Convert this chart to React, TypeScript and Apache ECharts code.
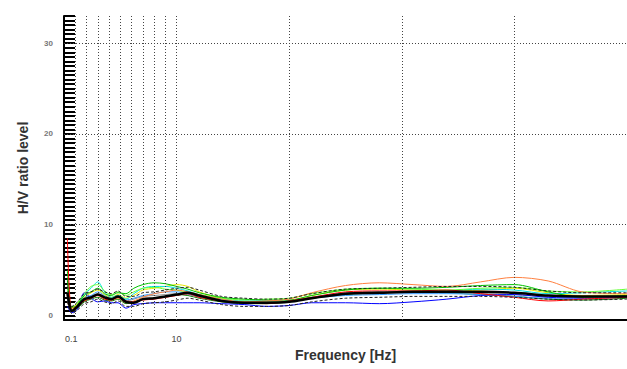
import React, { useEffect, useRef } from "react";
import * as echarts from "echarts";

const freqs = [0.3, 0.7, 1.2, 1.8, 2.4, 3, 3.6, 4.2, 4.8, 5.5, 6.2, 7, 8, 9, 10, 11, 12, 14, 16, 18, 20, 22, 25, 28, 31, 34, 37, 40, 43, 46, 50];

const meanCurve = [2.5, 0.5, 1.0, 1.8, 2.0, 2.3, 2.0, 1.8, 2.1, 1.5, 1.4, 1.8, 1.9, 2.1, 2.3, 2.5, 2.2, 1.6, 1.4, 1.4, 1.5, 1.9, 2.4, 2.5, 2.6, 2.6, 2.6, 2.5, 2.2, 2.1, 2.1];
const upperCurve = [3.2, 1.0, 1.5, 2.4, 2.6, 2.9, 2.6, 2.4, 2.7, 2.1, 2.1, 2.5, 2.6, 2.8, 3.0, 3.1, 2.8, 2.1, 1.9, 1.8, 1.9, 2.4, 2.9, 3.0, 3.1, 3.2, 3.2, 3.1, 2.7, 2.5, 2.5];
const lowerCurve = [1.5, 0.2, 0.6, 1.3, 1.5, 1.8, 1.5, 1.3, 1.6, 1.0, 1.0, 1.3, 1.4, 1.5, 1.7, 1.9, 1.7, 1.2, 1.0, 1.0, 1.1, 1.5, 1.9, 2.0, 2.1, 2.1, 2.1, 2.0, 1.8, 1.7, 1.8];

const redCurve = [8.5, 0.4, 0.9, 1.6, 1.9, 2.2, 1.8, 1.7, 2.0, 1.6, 1.5, 1.7, 1.8, 2.0, 2.2, 2.4, 2.0, 1.6, 1.4, 1.3, 1.6, 2.0, 2.6, 2.7, 2.7, 2.8, 2.4, 2.0, 1.6, 1.8, 2.0];
const blueCurve = [1.0, 0.3, 0.7, 2.5, 1.9, 1.5, 1.6, 1.4, 1.4, 0.8, 1.2, 1.3, 1.4, 1.4, 1.4, 1.4, 1.4, 1.3, 1.2, 1.0, 1.1, 1.4, 1.4, 1.3, 1.5, 1.8, 2.2, 2.3, 2.0, 1.9, 2.0];
const greenCurve = [5.0, 0.6, 1.2, 2.2, 2.6, 3.0, 2.4, 2.2, 2.5, 2.4, 3.0, 3.4, 3.6, 3.5, 3.2, 2.9, 2.5, 2.0, 1.8, 1.7, 1.7, 2.2, 2.8, 3.0, 3.0, 3.1, 3.3, 3.4, 2.6, 2.0, 2.2];
const cyanCurve = [2.5, 0.5, 1.0, 2.3, 3.0, 3.7, 2.6, 2.0, 2.2, 1.8, 2.4, 3.0, 3.2, 3.2, 3.0, 2.7, 2.3, 1.8, 1.6, 1.6, 1.6, 2.0, 2.4, 2.6, 2.6, 2.7, 2.9, 2.8, 2.4, 2.5, 2.7];
const yellowCurve = [2.0, 0.8, 1.3, 2.0, 2.5, 2.8, 2.3, 2.0, 2.3, 1.9, 2.2, 2.8, 3.0, 3.2, 3.4, 3.2, 2.6, 1.9, 1.5, 1.5, 1.6, 2.2, 2.8, 2.9, 2.8, 2.7, 2.8, 3.0, 2.5, 2.2, 2.3];
const orangeCurve = [1.5, 0.7, 1.1, 1.7, 2.0, 2.2, 1.9, 1.7, 1.9, 1.4, 1.6, 2.0, 2.4, 2.6, 2.8, 2.6, 2.3, 1.8, 1.5, 1.6, 1.8, 2.5, 3.3, 3.6, 3.4, 3.2, 3.7, 4.2, 3.8, 2.6, 2.4];
const limeCurve = [3.0, 0.9, 1.4, 2.4, 3.2, 3.4, 2.7, 2.3, 2.6, 2.2, 2.6, 3.0, 3.1, 2.9, 2.8, 2.5, 2.3, 1.9, 1.7, 1.8, 1.9, 2.4, 2.9, 3.0, 2.9, 2.8, 3.0, 3.1, 2.7, 2.6, 2.9];
const darkGreenCurve = [4.0, 0.4, 0.8, 1.5, 1.8, 2.0, 1.7, 1.6, 1.8, 1.3, 1.5, 1.8, 1.9, 2.1, 2.3, 2.2, 1.9, 1.5, 1.3, 1.3, 1.5, 1.9, 2.3, 2.5, 2.6, 2.5, 2.3, 2.1, 1.8, 1.7, 1.9];
const grayCurve = [2.2, 0.5, 1.0, 1.9, 2.1, 2.4, 2.1, 1.9, 2.1, 1.6, 1.8, 2.1, 2.2, 2.3, 2.4, 2.3, 2.0, 1.6, 1.5, 1.5, 1.6, 2.0, 2.5, 2.6, 2.5, 2.5, 2.4, 2.3, 2.1, 2.2, 2.2];
const skyCurve = [1.8, 0.6, 1.2, 2.0, 2.2, 2.6, 2.2, 1.9, 2.2, 1.7, 1.9, 2.2, 2.4, 2.6, 2.6, 2.4, 2.1, 1.7, 1.5, 1.4, 1.5, 1.9, 2.2, 2.3, 2.4, 2.4, 2.3, 2.1, 1.9, 2.0, 2.1];

const coloredCurves: [string, number[]][] = [
  ["#008000", darkGreenCurve],
  ["#888888", grayCurve],
  ["#3399ff", skyCurve],
  ["#0000ff", blueCurve],
  ["#e6e600", yellowCurve],
  ["#00e0e0", cyanCurve],
  ["#66ff33", limeCurve],
  ["#00c000", greenCurve],
  ["#ff8040", orangeCurve],
  ["#ff0000", redCurve],
];

const xLabelValues = [0.1, 10];
const vGridValues = [1, 2, 3, 4, 5, 6, 7, 8, 9, 10, 20, 30, 40];
const hGridValues = [10, 20, 30];

const pts = (vals: number[]) => freqs.map((f, i) => [f, vals[i]]);

export default function App() {
  const ref = useRef<HTMLDivElement>(null);
  useEffect(() => {
    if (!ref.current) return;
    const chart = echarts.init(ref.current, null, { renderer: "svg" });
    const font = "Liberation Sans, Arial, sans-serif";
    const series: any[] = [];
    series.push({
      type: "line",
      data: [],
      silent: true,
      markLine: {
        silent: true,
        symbol: "none",
        label: { show: false },
        lineStyle: { type: [1, 2], color: "#444", width: 1 },
        emphasis: { disabled: true },
        data: [
          ...vGridValues.map((v) => ({ xAxis: v })),
          ...hGridValues.map((v) => ({ yAxis: v })),
        ],
      },
    });
    coloredCurves.forEach(([c, vals]) => {
      series.push({
        type: "line",
        data: pts(vals),
        smooth: 0.3,
        symbol: "none",
        lineStyle: { color: c, width: 1 },
        z: 3,
      });
    });
    [upperCurve, lowerCurve].forEach((vals) => {
      series.push({
        type: "line",
        data: pts(vals),
        smooth: 0.3,
        symbol: "none",
        lineStyle: { color: "#222", width: 1, type: [3, 2] },
        z: 4,
      });
    });
    series.push({
      type: "line",
      data: pts(meanCurve),
      smooth: 0.3,
      symbol: "none",
      lineStyle: { color: "#000", width: 2.5 },
      z: 5,
    });
    chart.setOption({
      animation: false,
      grid: { left: 64, top: 16, width: 570, height: 304, containLabel: false },
      xAxis: {
        type: "value",
        min: 0,
        max: 50,
        name: "Frequency [Hz]",
        nameLocation: "middle",
        nameGap: 28,
        nameTextStyle: { fontFamily: font, fontWeight: "bold", fontSize: 14, color: "#333" },
        axisLine: { show: true, onZero: false, lineStyle: { color: "#000", width: 2 } },
        axisTick: { show: false },
        splitLine: { show: false },
        axisLabel: {
          customValues: xLabelValues,
          formatter: (v: number) => (v < 1 ? `{a|${v}}` : `{b|${v}}`),
          rich: {
            a: { padding: [0, 0, 0, 12], fontSize: 9, fontFamily: font, color: "#444" },
            b: { fontSize: 9, fontFamily: font, color: "#444" },
          },
          fontFamily: font,
          fontSize: 9,
          color: "#444",
          margin: 14,
        },
      },
      yAxis: {
        type: "value",
        min: -0.5,
        max: 33,
        interval: 0.5,
        name: "H/V ratio level",
        nameLocation: "middle",
        nameGap: 34,
        nameTextStyle: { fontFamily: font, fontWeight: "bold", fontSize: 14, color: "#333" },
        axisLine: { show: true, lineStyle: { color: "#000", width: 2 } },
        axisTick: { show: true, inside: true, length: 11, lineStyle: { color: "#000", width: 2 } },
        splitLine: { show: false },
        axisLabel: {
          fontFamily: font,
          fontSize: 8,
          color: "#777",
          fontWeight: "bold",
          margin: 11,
          formatter: (v: number) => (Math.abs(v % 10) < 1e-9 ? String(v) : ""),
        },
      },
      series,
    });
    return () => chart.dispose();
  }, []);
  return (
    <div
      ref={ref}
      style={{ position: "fixed", left: 0, top: 0, width: 627, height: 369, background: "#fff" }}
    />
  );
}
